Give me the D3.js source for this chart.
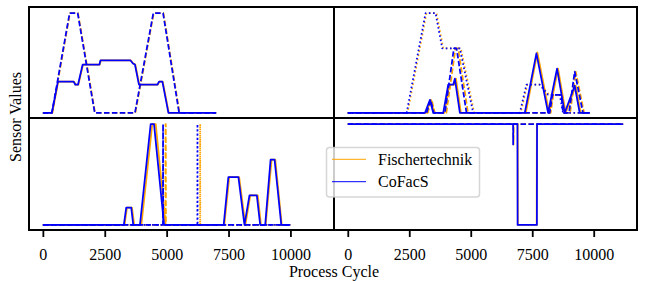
<!DOCTYPE html>
<html>
<head>
<meta charset="utf-8">
<script src="https://cdn.jsdelivr.net/npm/d3@7"></script>
<style>
  html, body { margin: 0; padding: 0; background: #fff; }
  svg { display: block; }
  text { font-family: "Liberation Serif", "Times New Roman", serif; }
</style>
</head>
<body>
<svg id="chart" width="646" height="281"></svg>
<script>
// ---------------- DATA ----------------
const sources = ["Fischertechnik", "CoFacS"];
const xTicks = [0, 2500, 5000, 7500, 10000];

// Top-left panel
const tlSolidFischer = [[0,0],[380,0],[622,31],[1258,31],[1326,28],[1434,28],[1623,48],[2300,48],[2340,52],[3558,52],[3652,49],[3734,48],[3896,28],[4640,28],[4708,31],[4843,31],[5087,0],[7000,0]];
const tlSolidCofacs  = [[0,0],[364,0],[607,31],[1243,31],[1311,28],[1419,28],[1608,48],[2285,48],[2325,52],[3543,52],[3637,49],[3719,48],[3881,28],[4625,28],[4693,31],[4828,31],[5072,0],[7000,0]];
const tlDashFischer  = [[0,0],[380,0],[1095,99],[1420,99],[2110,0],[3735,0],[4478,99],[4870,99],[5520,0],[7000,0]];
const tlDashCofacs   = [[0,0],[364,0],[1081,99],[1406,99],[2096,0],[3719,0],[4463,99],[4855,99],[5505,0],[7000,0]];

// Top-right panel
const trSolidFischer = [[0,0],[3180,0],[3380,13],[3515,0],[3930,0],[4130,28],[4330,28],[4400,34],[4600,0],[7240,0],[7710,60],[8190,0],[8550,44],[8860,0],[9270,27],[9470,0],[9835,0]];
const trSolidCofacs  = [[0,0],[3137,0],[3340,13],[3475,0],[3881,0],[4084,28],[4287,28],[4355,34],[4558,0],[7197,0],[7670,59],[8144,0],[8509,44],[8820,0],[9226,27],[9429,0],[9835,0]];
const trDashFischer  = [[0,0],[3250,0],[3410,13],[3545,0],[4010,0],[4380,64],[4490,64],[4890,0],[8250,0],[8360,18],[8720,18],[8790,0],[9040,0],[9270,41],[9610,0],[9835,0]];
const trDashCofacs   = [[0,0],[3205,0],[3367,13],[3503,0],[3949,0],[4315,64],[4423,64],[4829,0],[8211,0],[8319,18],[8685,18],[8752,0],[8996,0],[9226,41],[9564,0],[9835,0]];
const trDotFischer   = [[0,0],[2430,0],[3200,99],[3610,99],[3880,64],[4600,64],[5140,0],[7030,0],[7300,28],[7840,28],[8180,18],[8650,18],[8790,0],[9835,0]];
const trDotCofacs    = [[0,0],[2393,0],[3164,99],[3570,99],[3841,64],[4558,64],[5099,0],[6994,0],[7264,28],[7805,28],[8144,18],[8617,18],[8752,0],[9835,0]];

// Bottom-left panel
const blSolidFischer = [[0,0],[3300,0],[3400,17],[3600,17],[3690,0],[3980,0],[4420,99],[4560,99],[4960,0],[7330,0],[7530,47],[7930,47],[8180,0],[8380,29],[8680,29],[8810,0],[9000,0],[9240,64],[9390,64],[9650,0],[10000,0]];
const blSolidCofacs  = [[0,0],[3272,0],[3367,17],[3570,17],[3651,0],[3922,0],[4355,99],[4490,99],[4896,0],[7304,0],[7493,47],[7899,47],[8143,0],[8345,29],[8643,29],[8778,0],[8981,0],[9198,64],[9360,64],[9631,0],[10000,0]];
const blDashFischer  = [[0,0],[4950,0],[4955,99],[4965,99],[4970,0],[10000,0]];
const blDashCofacs   = [[0,0],[4850,0],[4855,99],[4860,0],[10000,0]];
const blDotFischer   = [[0,0],[6350,0],[6355,99],[6360,0],[10000,0]];
const blDotCofacs    = [[0,0],[6240,0],[6245,99],[6250,0],[10000,0]];

// Bottom-right panel
const brSolidFischer = [[0,99],[6910,99],[6915,0],[7680,0],[7688,99],[11200,99]];
const brSolidCofacs  = [[0,99],[6898,99],[6905,0],[7690,0],[7696,99],[11200,99]];
const brDashFischer  = [[0,99],[6735,99],[6740,79],[6745,99],[11200,99]];
const brDashCofacs   = [[0,99],[6722,99],[6725,79],[6730,99],[11200,99]];

// ---------------- LAYOUT ----------------
const svg = d3.select("#chart");
const colors = { "Fischertechnik": "#ffa500", "CoFacS": "#0000ff" };
const dashes = { solid: null, dash: "5.5,2.4", dot: "1.6,2.6" };
const cols = [[29, 334], [334, 637]];
const rows = [[118, 7], [230, 118]];
const xDomain = [-560, 11760];
const yDomain = [-5, 105];

const panels = [
  { c: 0, r: 0, series: [
    ["solid","Fischertechnik",tlSolidFischer],["dash","Fischertechnik",tlDashFischer],
    ["solid","CoFacS",tlSolidCofacs],["dash","CoFacS",tlDashCofacs]]},
  { c: 1, r: 0, series: [
    ["solid","Fischertechnik",trSolidFischer],["dash","Fischertechnik",trDashFischer],["dot","Fischertechnik",trDotFischer],
    ["solid","CoFacS",trSolidCofacs],["dash","CoFacS",trDashCofacs],["dot","CoFacS",trDotCofacs]]},
  { c: 0, r: 1, series: [
    ["solid","Fischertechnik",blSolidFischer],["dash","Fischertechnik",blDashFischer],["dot","Fischertechnik",blDotFischer],
    ["solid","CoFacS",blSolidCofacs],["dash","CoFacS",blDashCofacs],["dot","CoFacS",blDotCofacs]]},
  { c: 1, r: 1, series: [
    ["solid","Fischertechnik",brSolidFischer],["dash","Fischertechnik",brDashFischer],
    ["solid","CoFacS",brSolidCofacs],["dash","CoFacS",brDashCofacs]]}
];

const xScales = cols.map(rg => d3.scaleLinear().domain(xDomain).range(rg));
const yScales = rows.map(rg => d3.scaleLinear().domain(yDomain).range(rg));

panels.forEach(p => {
  const x = xScales[p.c], y = yScales[p.r];
  const line = d3.line().x(d => x(d[0])).y(d => y(d[1]));
  const g = svg.append("g");
  p.series.forEach(([style, src, data]) => {
    g.append("path")
      .attr("d", line(data))
      .attr("fill", "none")
      .attr("stroke", colors[src])
      .attr("stroke-width", 1.75)
      .attr("stroke-dasharray", dashes[style])
      .attr("stroke-linejoin", "round");
  });
});

// frames
panels.forEach(p => {
  const [x0, x1] = cols[p.c];
  const [y1, y0] = rows[p.r];
  svg.append("rect")
    .attr("x", x0).attr("y", y0)
    .attr("width", x1 - x0).attr("height", y1 - y0)
    .attr("fill", "none").attr("stroke", "#000").attr("stroke-width", 2);
});

// bottom axes
xScales.forEach(x => {
  const ax = svg.append("g")
    .attr("transform", `translate(0,${rows[1][0]})`)
    .call(d3.axisBottom(x).tickValues(xTicks).tickFormat(d3.format("d")).tickSize(7).tickPadding(12));
  ax.select(".domain").remove();
  ax.selectAll(".tick line").attr("stroke", "#000").attr("stroke-width", 1.8);
  ax.selectAll(".tick text")
    .attr("fill", "#000")
    .style("font-size", "16px")
    .style("font-family", '"Liberation Serif", "Times New Roman", serif');
});

// axis labels
svg.append("text")
  .attr("x", 334).attr("y", 277)
  .attr("text-anchor", "middle")
  .style("font-size", "16px")
  .text("Process Cycle");

svg.append("text")
  .attr("transform", "translate(21,117) rotate(-90)")
  .attr("text-anchor", "middle")
  .style("font-size", "16px")
  .text("Sensor Values");

// legend
const lg = svg.append("g");
lg.append("rect")
  .attr("x", 326.5).attr("y", 147.5).attr("width", 153).attr("height", 49.5)
  .attr("rx", 3).attr("ry", 3)
  .attr("fill", "rgba(255,255,255,0.8)")
  .attr("stroke", "rgba(204,204,204,0.8)").attr("stroke-width", 1.5);
sources.forEach((s, i) => {
  const yy = 159.3 + i * 22.4;
  lg.append("line")
    .attr("x1", 332).attr("x2", 366).attr("y1", yy).attr("y2", yy)
    .attr("stroke", colors[s]).attr("stroke-width", 1);
  lg.append("text")
    .attr("x", 378).attr("y", yy + 5.7)
    .style("font-size", "16px")
    .text(s);
});
</script>
</body>
</html>
